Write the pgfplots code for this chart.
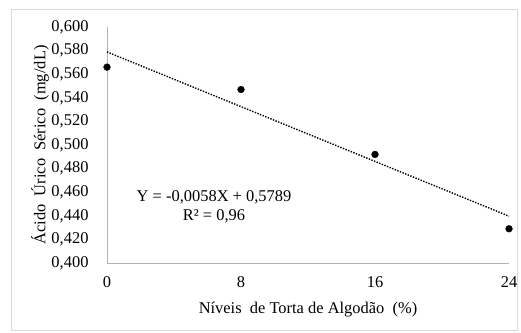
\documentclass[border=0pt]{standalone}
\usepackage{pgfplots}
\pgfplotsset{compat=1.18}
\usepackage{fontspec}
\setmainfont{Liberation Serif}
\begin{document}
\begin{tikzpicture}
\useasboundingbox (0,0) rectangle (521bp,333bp);
\draw[black!15, line width=0.8bp] (11bp,3bp) rectangle (517bp,324bp);
\begin{axis}[
  at={(107bp,70bp)}, anchor=south west,
  scale only axis, width=402bp, height=236bp,
  xmin=0, xmax=24, ymin=0.4, ymax=0.6,
  axis x line*=bottom, axis y line*=left,
  axis line style={black!30, line width=0.8bp, -},
  xtick={0,8,16,24}, ytick={0.4,0.42,...,0.61},
  major tick length=0pt,
  font=\fontsize{16.5}{19}\selectfont,
  /pgf/number format/assume math mode=true,
  yticklabel style={/pgf/number format/fixed, /pgf/number format/fixed zerofill, /pgf/number format/precision=3, /pgf/number format/use comma, xshift=-15bp},
  xticklabel style={/pgf/number format/fixed, /pgf/number format/use comma, yshift=-10bp},
  xlabel={Níveis\ \ de Torta de Algodão\ \ (\%)},
  ylabel={Ácido\ \ Úrico\ \ Sérico\ \ (mg/dL)},
  xlabel style={at={(axis description cs:0.5,0)}, anchor=center, yshift=-47bp},
  ylabel style={at={(axis description cs:0,0.5)}, anchor=center, rotate=0, yshift=67bp},
  clip=false,
]
\addplot[black, line width=1.4bp, dash pattern=on 1.4bp off 1.4bp] coordinates {(0,0.5789) (24,0.4397)};
\addplot[only marks, mark=*, mark size=3.4bp, black] coordinates {
(0,0.566) (8,0.547) (16,0.492) (24,0.429)};
\node[align=center, font=\fontsize{16.5}{19}\selectfont, inner sep=0pt] at (axis cs:6.39,0.4475) {Y = -0,0058X + 0,5789\\R² = 0,96};
\end{axis}
\end{tikzpicture}
\end{document}
